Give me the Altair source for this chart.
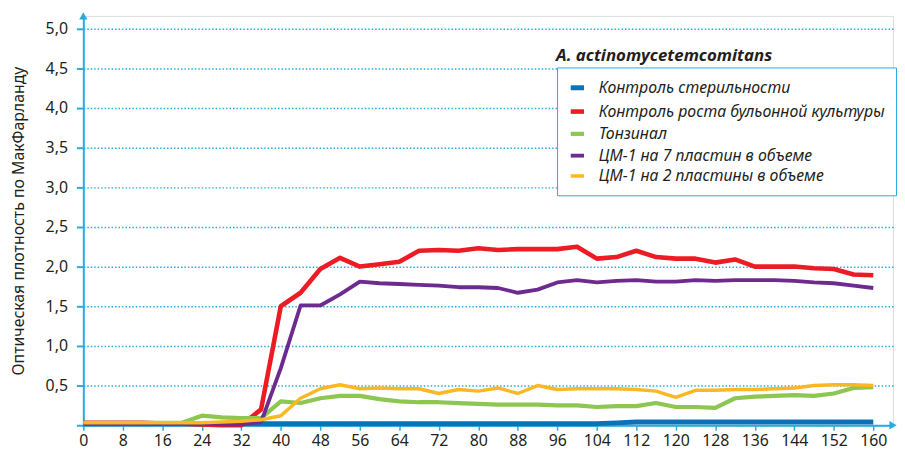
import altair as alt
import pandas as pd

hours = list(range(0, 161, 4))

series_names = [
    "Контроль стерильности",
    "Контроль роста бульонной культуры",
    "Тонзинал",
    "ЦМ-1 на 7 пластин в объеме",
    "ЦМ-1 на 2 пластины в объеме",
]
series_colors = ["#0b72ba", "#ed1c24", "#8dc751", "#6e2b8f", "#fbb823"]

sterility = [0.02] * 27 + [0.03] + [0.04] * 13
broth = [0.03, 0.03, 0.03, 0.03, 0.02, 0.02, 0.01, 0.0, 0.0, 0.2, 1.5, 1.67, 1.97, 2.11,
         2.0, 2.03, 2.06, 2.2, 2.21, 2.2, 2.23, 2.21, 2.22, 2.22, 2.22, 2.25, 2.1, 2.12,
         2.2, 2.12, 2.1, 2.1, 2.05, 2.09, 2.0, 2.0, 2.0, 1.98, 1.97, 1.9, 1.89]
tonzinal = [0.03, 0.03, 0.03, 0.03, 0.03, 0.03, 0.12, 0.1, 0.09, 0.09, 0.3, 0.28, 0.34, 0.37,
            0.37, 0.33, 0.3, 0.29, 0.29, 0.28, 0.27, 0.26, 0.26, 0.26, 0.25, 0.25, 0.23, 0.24,
            0.24, 0.28, 0.23, 0.23, 0.22, 0.34, 0.36, 0.37, 0.38, 0.37, 0.4, 0.47, 0.48]
cm7 = [0.02, 0.02, 0.02, 0.02, 0.02, 0.02, 0.02, 0.01, 0.01, 0.04, 0.72, 1.51, 1.51, 1.65,
       1.81, 1.79, 1.78, 1.77, 1.76, 1.74, 1.74, 1.73, 1.67, 1.71, 1.8, 1.83, 1.8, 1.82,
       1.83, 1.81, 1.81, 1.83, 1.82, 1.83, 1.83, 1.83, 1.82, 1.8, 1.79, 1.76, 1.73]
cm2 = [0.03, 0.03, 0.03, 0.03, 0.03, 0.03, 0.03, 0.04, 0.05, 0.07, 0.12, 0.34, 0.46, 0.51,
       0.46, 0.47, 0.46, 0.46, 0.4, 0.45, 0.43, 0.47, 0.4, 0.5, 0.45, 0.46, 0.46, 0.46,
       0.45, 0.43, 0.35, 0.44, 0.44, 0.45, 0.45, 0.46, 0.47, 0.5, 0.51, 0.51, 0.5]

x_ticks = list(range(0, 161, 8))
y_ticks = [0, 0.5, 1.0, 1.5, 2.0, 2.5, 3.0, 3.5, 4.0, 4.5, 5.0]
X_MAX = 164
Y_MAX = 5.16

rows = []
for name, vals in zip(series_names, [sterility, broth, tonzinal, cm7, cm2]):
    for h, v in zip(hours, vals):
        rows.append({"h": h, "v": v, "s": name})
df = pd.DataFrame(rows)

AX = "#29abe2"
TXT = "#231f20"
FONT = "Noto Sans"

lines = alt.Chart(df).mark_line(strokeJoin="round").encode(
    x=alt.X("h:Q", scale=alt.Scale(domain=[0, X_MAX], nice=False, zero=False),
            axis=alt.Axis(values=x_ticks, title=None, grid=False, domainColor=AX,
                          domainWidth=2, tickColor=AX, tickWidth=1.5, tickSize=5,
                          labelFontSize=16, labelColor=TXT, labelFont=FONT,
                          labelPadding=2, labelFlush=False)),
    y=alt.Y("v:Q", scale=alt.Scale(domain=[0, Y_MAX], nice=False),
            axis=alt.Axis(values=y_ticks, title="Оптическая плотность по МакФарланду",
                          titleFontSize=16, titleFontWeight="normal", titleColor=TXT,
                          titleFont=FONT, titlePadding=19,
                          labelExpr="datum.value == 0 ? '' : replace(format(datum.value, '.1f'), '.', ',')",
                          grid=True, gridColor=AX, gridDash=[1.5, 2], gridWidth=1.5,
                          domainColor=AX, domainWidth=2, tickColor=AX, tickWidth=2,
                          tickSize=7, labelFontSize=16, labelColor=TXT, labelFont=FONT,
                          labelPadding=9, labelFlush=False)),
    color=alt.Color("s:N", scale=alt.Scale(domain=series_names, range=series_colors),
                    legend=alt.Legend(title=None, orient="none", legendX=478, legendY=52,
                                      strokeColor=AX, fillColor="white", padding=11,
                                      symbolType="stroke", symbolStrokeWidth=4,
                                      symbolSize=180, labelFontSize=16,
                                      labelFontStyle="italic", labelColor=TXT,
                                      labelFont=FONT, rowPadding=4, labelOffset=12,
                                      labelLimit=400)),
    strokeWidth=alt.StrokeWidth("s:N", scale=alt.Scale(domain=series_names,
                                                       range=[5, 3.5, 3.5, 3.5, 3.5]),
                                legend=None),
)

arrow_x = alt.Chart().mark_point(shape="triangle-right", filled=True, size=70,
                                 color=AX, opacity=1).encode(
    x=alt.datum(X_MAX), y=alt.datum(0))
arrow_y = alt.Chart().mark_point(shape="triangle-up", filled=True, size=70,
                                 color=AX, opacity=1).encode(
    x=alt.datum(0), y=alt.datum(Y_MAX))

chart = alt.layer(lines, arrow_x, arrow_y).properties(
    width=817, height=413,
    padding={"left": 2, "top": 2, "right": 0, "bottom": 0},
    title=alt.TitleParams("A. actinomycetemcomitans", anchor="start", frame="group",
                          fontSize=17, fontStyle="italic", fontWeight="bold",
                          color=TXT, font=FONT, dx=477, dy=57),
).configure_view(stroke=None).configure(background="white")

chart.save("out.html", embed_options={"renderer": "svg", "actions": False})
